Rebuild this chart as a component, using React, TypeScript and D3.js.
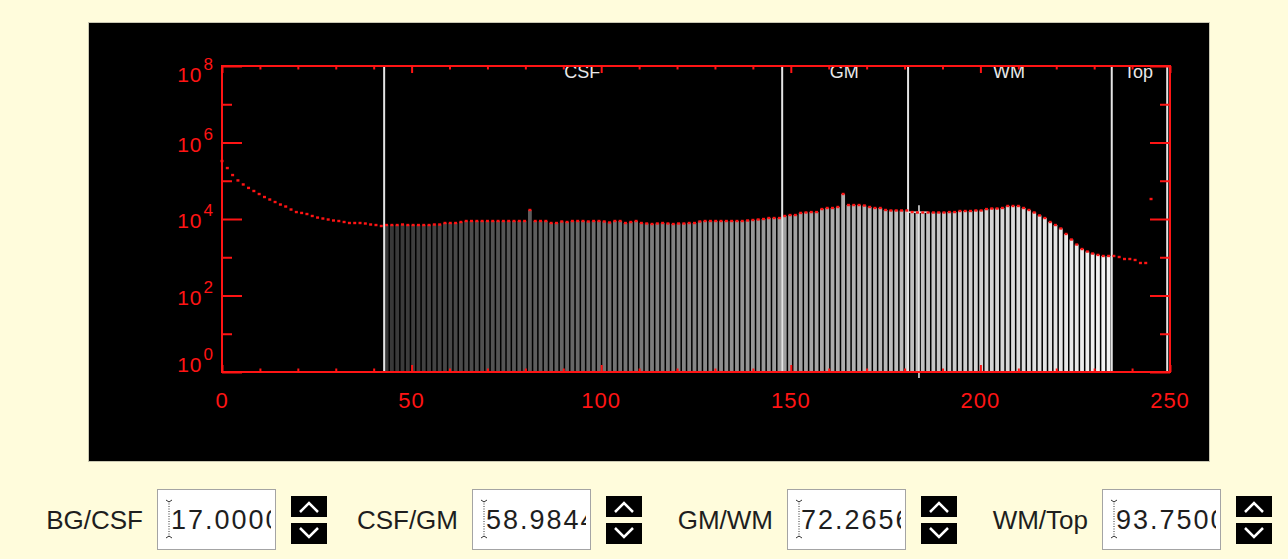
import { useEffect, useRef } from 'react';
import * as d3 from 'd3';

// histogram of grey levels, one count per bin (bin width 1.4 levels)
const binWidth = 1.4;
const counts = [
  328000, 215000, 141000, 102000, 80000, 65000, 54000, 45000, 37600, 32300,
  27800, 23900, 21200, 17700, 15200, 14400, 13500, 12000, 10900, 10300,
  9700, 9140, 8870, 8350, 7860, 7860, 7860, 7620, 7180, 6960,
  6560, 6960, 6960, 6960, 7180, 6960, 6960, 6960, 6960, 6960,
  7180, 7180, 7860, 7860, 7860, 8350, 8870, 8870, 8870, 8870,
  8870, 8870, 8870, 8870, 8870, 8870, 8870, 8870, 17200, 8870,
  8870, 8870, 7860, 7860, 8610, 8350, 8870, 8870, 8870, 8610,
  8870, 8870, 8610, 8100, 8870, 8870, 7860, 8350, 8870, 7860,
  7620, 7400, 7620, 7860, 7620, 7400, 7620, 7620, 7860, 7860,
  8610, 8870, 8870, 8870, 8870, 8870, 8870, 8870, 8870, 9140,
  9420, 9700, 10000, 10600, 10600, 10600, 12000, 12700, 12700, 14400,
  14800, 15200, 15200, 18200, 19400, 19400, 20600, 45100, 23200, 23200,
  23200, 22500, 20600, 19400, 19400, 17200, 16700, 16700, 16700, 16700,
  15200, 14800, 14800, 14800, 14800, 14800, 14800, 15200, 15200, 16200,
  16200, 16200, 16700, 16700, 18200, 18800, 18800, 19400, 21900, 21900,
  21900, 19400, 17200, 14800, 12400, 10600, 8350, 6960, 5650, 4060,
  2910, 2150, 1640, 1410, 1250, 1150, 1080, 1080, 1080, 1015,
  900, 900, 848, 708, 708, 33300,
];

// threshold widgets (percent of the grey range)
const controlLabels = ['BG/CSF', 'CSF/GM', 'GM/WM', 'WM/Top'];
const controlValues = ['17.0000', '58.9844', '72.2656', '93.7500'];
const regionLabels = ['CSF', 'GM', 'WM', 'Top'];

const xMax = 250;
const maxLevel = 249;
const cursorLevel = 183.8;
const cursorCount = 23000;
const xMajorTicks = [0, 50, 100, 150, 200, 250];
const yExponents = [0, 2, 4, 6, 8];

export default function App() {
  const ref = useRef<SVGSVGElement | null>(null);

  useEffect(() => {
    if (!ref.current) return;
    const svg = d3.select(ref.current);
    svg.selectAll('*').remove();

    const font = '"Liberation Sans", Arial, sans-serif';
    const red = '#ff1414';
    const left = 222, right = 1170, top = 66, bottom = 372;

    svg.append('rect').attr('width', 1288).attr('height', 559).attr('fill', '#fffcdc');
    svg.append('rect')
      .attr('x', 88.5).attr('y', 22.5).attr('width', 1121).attr('height', 439)
      .attr('fill', '#000').attr('stroke', '#c9c7b2');

    const x = d3.scaleLinear().domain([0, xMax]).range([left, right]);
    const y = d3.scaleLog().domain([1, 1e8]).range([bottom, top]);

    const thresholds = controlValues.map(v => (parseFloat(v) / 100) * xMax);
    const bounds = [...thresholds, maxLevel];
    const gray = d3.scaleLinear<string>()
      .domain([thresholds[0], thresholds[3]])
      .range(['#363636', '#f4f4f4']);

    const bins = counts.map((c, i) => ({ level: i * binWidth, count: c }));
    const g = svg.append('g');

    // grey bars only inside the tissue range
    g.selectAll('rect.bar')
      .data(bins.filter(d => d.level >= thresholds[0] && d.level <= thresholds[3]))
      .join('rect')
      .attr('class', 'bar')
      .attr('x', d => x(d.level) - 1.9)
      .attr('width', 3.8)
      .attr('y', d => y(d.count))
      .attr('height', d => y(1) - y(d.count))
      .attr('fill', d => gray(d.level));

    // threshold lines
    g.selectAll('line.thr')
      .data(bounds)
      .join('line')
      .attr('class', 'thr')
      .attr('x1', d => x(d) + 1).attr('x2', d => x(d) + 1)
      .attr('y1', top).attr('y2', bottom)
      .attr('stroke', '#e4e4e4').attr('stroke-width', 2);

    g.selectAll('text.region')
      .data(regionLabels)
      .join('text')
      .attr('class', 'region')
      .attr('x', (_, i) => x((bounds[i] + bounds[i + 1]) / 2))
      .attr('y', 78)
      .attr('text-anchor', 'middle')
      .attr('font-family', font).attr('font-size', 18)
      .attr('fill', '#e8e8e8')
      .text(d => d);

    // cursor mark
    const cx = x(cursorLevel), cy = y(cursorCount);
    g.append('line').attr('x1', cx).attr('x2', cx).attr('y1', cy).attr('y2', bottom + 6)
      .attr('stroke', '#e8e8e8').attr('stroke-width', 1.5);
    g.append('line').attr('x1', cx - 10).attr('x2', cx + 9).attr('y1', cy + 7).attr('y2', cy + 7)
      .attr('stroke', '#e8e8e8').attr('stroke-width', 1.5);

    // red points at each bin top
    g.selectAll('rect.pt')
      .data(bins)
      .join('rect')
      .attr('class', 'pt')
      .attr('x', d => x(d.level) - 1.5)
      .attr('y', d => y(d.count) - 1.2)
      .attr('width', 3).attr('height', 2.4)
      .attr('fill', red);

    // axes, ticks pointing inward
    const styleAxis = (sel: d3.Selection<SVGGElement, unknown, null, undefined>) => {
      sel.select('.domain').remove();
      sel.selectAll('line').attr('stroke', red).attr('stroke-width', 2);
      sel.selectAll('text').remove();
    };
    const minorX = d3.range(0, xMax + 1, 10).filter(v => v % 50 !== 0);
    const minorY = [1, 3, 5, 7].map(e => Math.pow(10, e));
    const majorY = yExponents.map(e => Math.pow(10, e));

    g.append('g').attr('transform', `translate(0,${bottom})`)
      .call(d3.axisBottom(x).tickValues(xMajorTicks).tickSize(-7)).call(styleAxis);
    g.append('g').attr('transform', `translate(0,${bottom})`)
      .call(d3.axisBottom(x).tickValues(minorX).tickSize(-3.5)).call(styleAxis);
    g.append('g').attr('transform', `translate(0,${top})`)
      .call(d3.axisTop(x).tickValues(xMajorTicks).tickSize(-7)).call(styleAxis);
    g.append('g').attr('transform', `translate(0,${top})`)
      .call(d3.axisTop(x).tickValues(minorX).tickSize(-3.5)).call(styleAxis);
    g.append('g').attr('transform', `translate(${left},0)`)
      .call(d3.axisLeft(y).tickValues(majorY).tickSize(-20)).call(styleAxis);
    g.append('g').attr('transform', `translate(${left},0)`)
      .call(d3.axisLeft(y).tickValues(minorY).tickSize(-10)).call(styleAxis);
    g.append('g').attr('transform', `translate(${right},0)`)
      .call(d3.axisRight(y).tickValues(majorY).tickSize(-20)).call(styleAxis);
    g.append('g').attr('transform', `translate(${right},0)`)
      .call(d3.axisRight(y).tickValues(minorY).tickSize(-10)).call(styleAxis);

    g.append('rect')
      .attr('x', left).attr('y', top).attr('width', right - left).attr('height', bottom - top)
      .attr('fill', 'none').attr('stroke', red).attr('stroke-width', 2);

    g.selectAll('text.xl')
      .data(xMajorTicks)
      .join('text')
      .attr('class', 'xl')
      .attr('x', d => x(d)).attr('y', 408)
      .attr('text-anchor', 'middle')
      .attr('font-family', font).attr('font-size', 22).attr('letter-spacing', 1)
      .attr('fill', red)
      .text(d => d);

    const yl = g.selectAll('text.yl')
      .data(yExponents)
      .join('text')
      .attr('class', 'yl')
      .attr('x', 213)
      .attr('y', d => Math.min(bottom, Math.max(82, y(Math.pow(10, d)) + 9)))
      .attr('text-anchor', 'end')
      .attr('font-family', font)
      .attr('fill', red);
    yl.append('tspan').attr('font-size', 21).attr('letter-spacing', 1).text('10');
    yl.append('tspan').attr('font-size', 17).attr('dy', -12).attr('dx', 1).text(d => d);

    // threshold controls under the plot
    const ctrl = svg.selectAll('g.ctrl')
      .data(controlLabels)
      .join('g')
      .attr('class', 'ctrl')
      .attr('transform', (_, i) => `translate(${157 + i * 315},489)`);

    ctrl.append('text')
      .attr('x', -14).attr('y', 40)
      .attr('text-anchor', 'end')
      .attr('font-family', font).attr('font-size', 26)
      .attr('fill', '#1e1e1e')
      .text(d => d);

    ctrl.append('clipPath')
      .attr('id', (_, i) => `clip${i}`)
      .append('rect').attr('x', 2).attr('y', 2).attr('width', 112).attr('height', 56);

    ctrl.append('rect')
      .attr('x', 0.5).attr('y', 0.5).attr('width', 118).attr('height', 60)
      .attr('fill', '#fff').attr('stroke', '#a4a4a4');

    ctrl.append('text')
      .attr('clip-path', (_, i) => `url(#clip${i})`)
      .attr('x', 14).attr('y', 40)
      .attr('font-family', font).attr('font-size', 27).attr('letter-spacing', 2)
      .attr('fill', '#1e1e1e')
      .text((_, i) => controlValues[i]);

    // text cursor
    ctrl.append('line')
      .attr('x1', 12).attr('x2', 12).attr('y1', 12).attr('y2', 48)
      .attr('stroke', '#333').attr('stroke-dasharray', '1,1.5');
    ctrl.append('path')
      .attr('d', 'M9,11 L12,13 L15,11 M9,49 L12,47 L15,49')
      .attr('fill', 'none').attr('stroke', '#333');

    // spin buttons
    const spin = ctrl.append('g').attr('transform', 'translate(134,7)');
    spin.append('rect').attr('width', 36).attr('height', 21).attr('fill', '#000');
    spin.append('rect').attr('y', 27).attr('width', 36).attr('height', 21).attr('fill', '#000');
    spin.append('path').attr('d', 'M9,16 L18,7 L27,16')
      .attr('fill', 'none').attr('stroke', '#fff').attr('stroke-width', 2.5);
    spin.append('path').attr('d', 'M9,32 L18,41 L27,32')
      .attr('fill', 'none').attr('stroke', '#fff').attr('stroke-width', 2.5);
  }, []);

  return (
    <svg
      ref={ref}
      width={1288}
      height={559}
      style={{ position: 'absolute', left: 0, top: 0, display: 'block' }}
    ></svg>
  );
}
